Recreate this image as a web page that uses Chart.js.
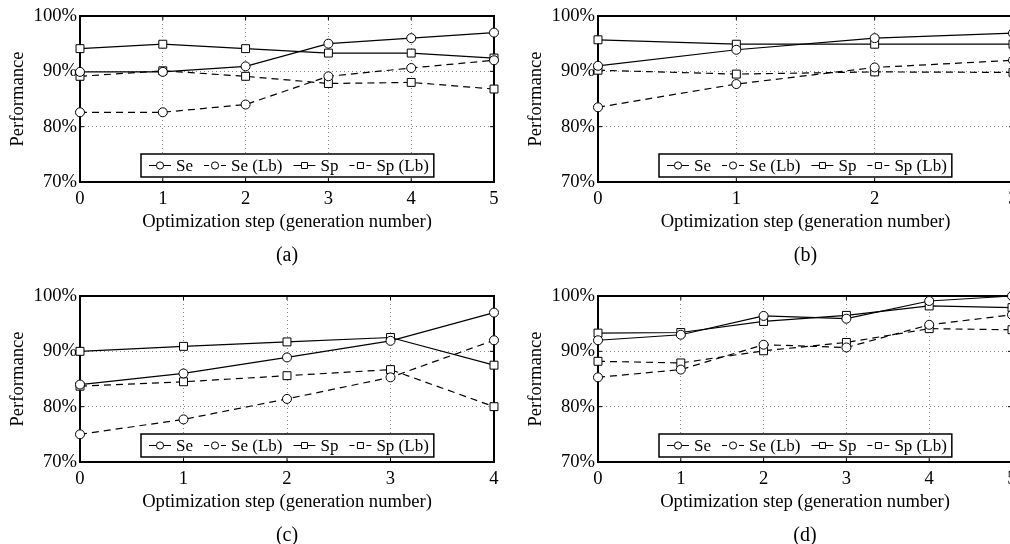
<!DOCTYPE html>
<html>
<head>
<meta charset="utf-8">
<title>Performance per optimization step</title>
<script src="https://cdn.jsdelivr.net/npm/chart.js@4.4.1/dist/chart.umd.min.js"></script>
<style>
  html, body { margin: 0; padding: 0; background: #fff; overflow: hidden; }
  body { width: 1010px; height: 544px; position: relative; }
  .panel { position: absolute; }
</style>
</head>
<body>
<div class="panel" style="left:0;top:0"><canvas id="chartA" width="505" height="272"></canvas></div>
<div class="panel" style="left:505px;top:0"><canvas id="chartB" width="530" height="272"></canvas></div>
<div class="panel" style="left:0;top:272px"><canvas id="chartC" width="505" height="272"></canvas></div>
<div class="panel" style="left:505px;top:272px"><canvas id="chartD" width="530" height="272"></canvas></div>
<script>
// x categories (generation number) for each panel
const stepsA = ['0', '1', '2', '3', '4', '5'];
const stepsB = ['0', '1', '2', '3'];
const stepsC = ['0', '1', '2', '3', '4'];
const stepsD = ['0', '1', '2', '3', '4', '5'];
const yTicks = [70, 80, 90, 100];

// (a)
const seA   = [89.9, 89.9, 90.9, 95, 96, 97];
const seLbA = [82.6, 82.6, 84, 89.1, 90.6, 92];
const spA   = [94.1, 94.9, 94.1, 93.3, 93.3, 92.4];
const spLbA = [89.1, 90.1, 89.1, 87.8, 88, 86.8];

// (b)
const seB   = [91, 93.9, 96, 96.9];
const seLbB = [83.5, 87.7, 90.7, 92];
const spB   = [95.7, 94.9, 94.9, 94.9];
const spLbB = [90.2, 89.5, 89.9, 89.8];

// (c)
const seC   = [84, 86, 88.9, 91.9, 97];
const seLbC = [75, 77.7, 81.4, 85.3, 92];
const spC   = [90, 90.9, 91.7, 92.5, 87.5];
const spLbC = [83.7, 84.5, 85.6, 86.7, 80];

// (d)
const seD   = [92, 93, 96.4, 95.9, 99.1, 100];
const seLbD = [85.3, 86.7, 91.2, 90.7, 94.8, 96.6];
const spD   = [93.3, 93.4, 95.4, 96.5, 98.2, 97.9];
const spLbD = [88.2, 87.9, 90.1, 91.6, 94.1, 93.9];

Chart.defaults.font.family = '"Liberation Serif", "Times New Roman", serif';
Chart.defaults.font.size = 18.6;
Chart.defaults.color = '#000';

// box around the plot + small inward ticks (matlab look)
const frame = {
  id: 'frame',
  beforeDatasetsDraw(chart) {
    const { ctx, chartArea: a, scales: { x, y } } = chart;
    ctx.save();
    ctx.strokeStyle = '#000';
    ctx.lineWidth = 1;
    ctx.beginPath();
    x.ticks.forEach((t, i) => {
      const px = x.getPixelForTick(i);
      ctx.moveTo(px, a.bottom); ctx.lineTo(px, a.bottom - 4);
      ctx.moveTo(px, a.top); ctx.lineTo(px, a.top + 4);
    });
    y.ticks.forEach((t, i) => {
      const py = y.getPixelForTick(i);
      ctx.moveTo(a.left, py); ctx.lineTo(a.left + 4, py);
      ctx.moveTo(a.right, py); ctx.lineTo(a.right - 4, py);
    });
    ctx.stroke();
    ctx.lineWidth = 2;
    ctx.strokeRect(a.left, a.top, a.width, a.height);
    ctx.restore();
  }
};

// legend box sitting inside the plot, bottom centre
const insideLegend = {
  id: 'insideLegend',
  afterDatasetsDraw(chart) {
    const { ctx, chartArea: a } = chart;
    const sets = chart.data.datasets;
    ctx.save();
    ctx.font = '17px "Liberation Serif", serif';
    const pad = 8, sample = 22, gapText = 5, gapItem = 11, padR = 5, h = 23;
    const widths = sets.map(d => ctx.measureText(d.label).width);
    const w = pad + sets.length * (sample + gapText) + widths.reduce((s, v) => s + v, 0) + (sets.length - 1) * gapItem + padR;
    const left = Math.round((a.left + a.right) / 2 - w / 2);
    const top = Math.round(a.bottom - 5 - h);
    ctx.fillStyle = '#fff';
    ctx.fillRect(left, top, w, h);
    ctx.lineWidth = 1.5;
    ctx.strokeStyle = '#000';
    ctx.strokeRect(left, top, w, h);
    let cx = left + pad;
    const cy = top + h / 2;
    sets.forEach((d, i) => {
      ctx.lineWidth = 1;
      ctx.beginPath();
      if (d.borderDash.length) {
        ctx.moveTo(cx, cy); ctx.lineTo(cx + 5, cy);
        ctx.moveTo(cx + sample - 5, cy); ctx.lineTo(cx + sample, cy);
      } else {
        ctx.moveTo(cx, cy); ctx.lineTo(cx + sample, cy);
      }
      ctx.stroke();
      const mx = cx + sample / 2;
      ctx.fillStyle = '#fff';
      ctx.beginPath();
      if (d.pointStyle === 'rect') ctx.rect(mx - 3, cy - 3, 6, 6);
      else ctx.arc(mx, cy, 3.6, 0, Math.PI * 2);
      ctx.fill();
      ctx.stroke();
      ctx.fillStyle = '#000';
      ctx.textBaseline = 'middle';
      ctx.textAlign = 'left';
      ctx.fillText(d.label, cx + sample + gapText, cy + 1);
      cx += sample + gapText + widths[i] + gapItem;
    });
    ctx.restore();
  }
};

function captionPlugin(text) {
  return {
    id: 'caption',
    afterDraw(chart) {
      const { ctx, chartArea: a } = chart;
      ctx.save();
      ctx.font = '20px "Liberation Serif", serif';
      ctx.fillStyle = '#000';
      ctx.textAlign = 'center';
      ctx.textBaseline = 'middle';
      ctx.fillText(text, (a.left + a.right) / 2, a.bottom + 74);
      ctx.restore();
    }
  };
}

function series(label, data, shape, dash) {
  return {
    label: label,
    data: data,
    borderColor: '#000',
    borderWidth: 1.2,
    borderDash: dash,
    pointStyle: shape,
    pointRadius: shape === 'rect' ? 5.6 : 4.5,
    pointBackgroundColor: '#fff',
    pointBorderColor: '#000',
    pointBorderWidth: 1,
    tension: 0,
    fill: false,
    clip: false
  };
}

// box = plot area inside the canvas (left, right, top, bottom)
function makeChart(id, steps, se, seLb, sp, spLb, caption, box) {
  const canvas = document.getElementById(id);
  const dotted = { color: '#8a8a8a', lineWidth: 1, drawTicks: false };
  return new Chart(canvas, {
    type: 'line',
    data: {
      labels: steps,
      datasets: [
        series('Se', se, 'circle', []),
        series('Se (Lb)', seLb, 'circle', [7, 5]),
        series('Sp', sp, 'rect', []),
        series('Sp (Lb)', spLb, 'rect', [7, 5])
      ]
    },
    options: {
      responsive: false,
      animation: false,
      layout: {
        padding: {
          left: box.left - 80,
          right: canvas.width - box.right,
          top: box.top,
          bottom: canvas.height - box.bottom - 80
        }
      },
      plugins: {
        legend: { display: false },
        tooltip: { enabled: false }
      },
      scales: {
        x: {
          grid: dotted,
          border: { display: false, dash: [1, 3] },
          ticks: { padding: 6, maxRotation: 0, autoSkip: false },
          title: {
            display: true,
            text: 'Optimization step (generation number)',
            padding: { top: 0, bottom: 29 }
          },
          afterFit(s) { s.height = 80; }
        },
        y: {
          min: 70,
          max: 100,
          afterBuildTicks(s) { s.ticks = yTicks.map(v => ({ value: v })); },
          grid: dotted,
          border: { display: false, dash: [1, 3] },
          ticks: { padding: 3, callback: v => v + '%' },
          title: { display: true, text: 'Performance', padding: { top: 7, bottom: 0 } },
          afterFit(s) { s.width = 80; }
        }
      }
    },
    plugins: [frame, insideLegend, captionPlugin(caption)]
  });
}

makeChart('chartA', stepsA, seA, seLbA, spA, spLbA, '(a)', { left: 80, right: 494, top: 16, bottom: 182 });
makeChart('chartB', stepsB, seB, seLbB, spB, spLbB, '(b)', { left: 93, right: 508, top: 16, bottom: 182 });
makeChart('chartC', stepsC, seC, seLbC, spC, spLbC, '(c)', { left: 80, right: 494, top: 24, bottom: 190 });
makeChart('chartD', stepsD, seD, seLbD, spD, spLbD, '(d)', { left: 93, right: 507, top: 24, bottom: 190 });
</script>
</body>
</html>
